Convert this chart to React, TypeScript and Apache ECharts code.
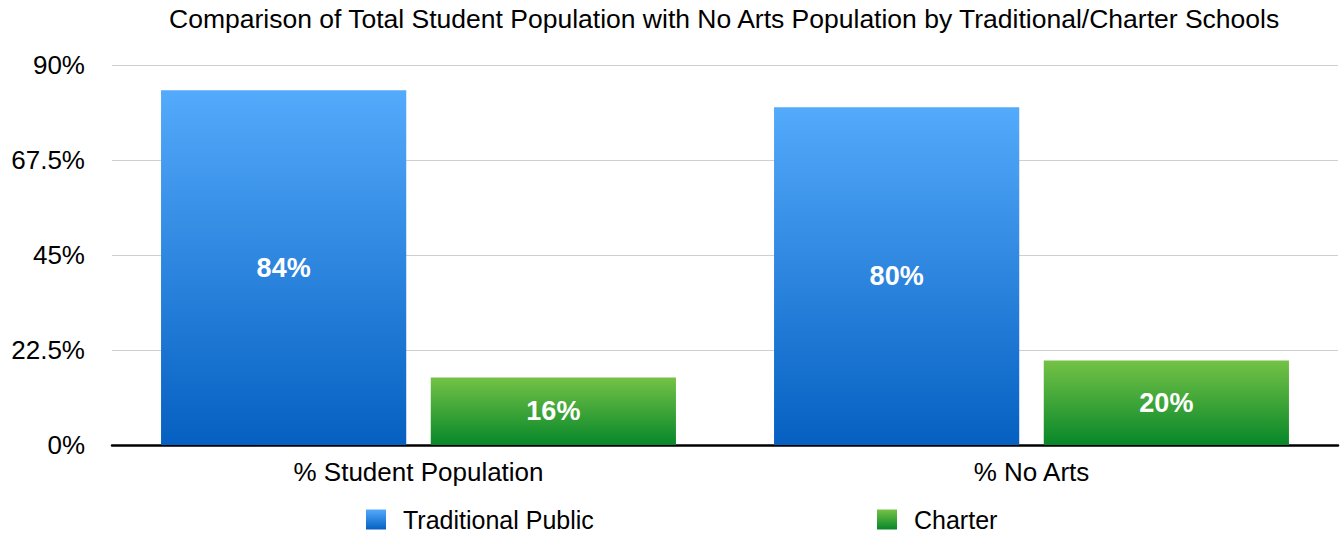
import React, { useEffect, useRef } from "react";
import * as echarts from "echarts";

const categories = ["% Student Population", "% No Arts"];
const traditionalPublic = [84, 80];
const charter = [16, 20];
const yTicks = { min: 0, max: 90, interval: 22.5 };
const titleText =
  "Comparison of Total Student Population with No Arts Population by Traditional/Charter Schools";

const FONT = "Helvetica, 'Liberation Sans', Arial, sans-serif";
const BOLD = "'Liberation Sans', Arial, sans-serif";

const blueGrad = () =>
  new echarts.graphic.LinearGradient(0, 0, 0, 1, [
    { offset: 0, color: "#54AAFB" },
    { offset: 1, color: "#0560C1" },
  ]);
const greenGrad = () =>
  new echarts.graphic.LinearGradient(0, 0, 0, 1, [
    { offset: 0, color: "#74C246" },
    { offset: 1, color: "#07872A" },
  ]);

export default function App() {
  const ref = useRef<HTMLDivElement>(null);
  useEffect(() => {
    if (!ref.current) return;
    const chart = echarts.init(ref.current, undefined, { renderer: "svg" });
    const labelCfg = {
      show: true,
      position: "inside",
      color: "#fff",
      fontFamily: BOLD,
      fontWeight: "bold",
      fontSize: 27,
      formatter: (p: any) => p.value + "%",
    };
    const legendText = {
      fontFamily: FONT,
      fontSize: 25,
      color: "#000",
      padding: [0, 0, 0, 12],
    };
    chart.setOption({
      animation: false,
      backgroundColor: "#fff",
      title: {
        text: titleText,
        left: 169,
        top: 5,
        padding: 0,
        textStyle: { fontFamily: FONT, fontSize: 26.5, fontWeight: "normal", color: "#000" },
      },
      legend: [
        {
          data: ["Traditional Public"],
          left: 366,
          top: 507,
          padding: 0,
          itemWidth: 20,
          itemHeight: 20,
          icon: "rect",
          textStyle: legendText,
        },
        {
          data: ["Charter"],
          left: 877,
          top: 507,
          padding: 0,
          itemWidth: 20,
          itemHeight: 20,
          icon: "rect",
          textStyle: legendText,
        },
      ],
      grid: { left: 112, right: 3, top: 65, bottom: 90, containLabel: false },
      xAxis: {
        type: "category",
        data: categories,
        axisTick: { show: false },
        axisLine: { lineStyle: { color: "#000", width: 2.5 } },
        axisLabel: { fontFamily: FONT, fontSize: 26, color: "#000", margin: 14 },
      },
      yAxis: {
        type: "value",
        min: yTicks.min,
        max: yTicks.max,
        interval: yTicks.interval,
        axisLine: { show: false },
        axisTick: { show: false },
        splitLine: { lineStyle: { color: "#cfcfcf", width: 1 } },
        axisLabel: {
          fontFamily: FONT,
          fontSize: 26,
          color: "#000",
          margin: 27,
          formatter: (v: number) => v + "%",
        },
      },
      series: [
        {
          name: "Traditional Public",
          type: "bar",
          data: traditionalPublic,
          barWidth: "40%",
          barGap: "10%",
          itemStyle: { color: blueGrad() },
          label: labelCfg,
        },
        {
          name: "Charter",
          type: "bar",
          data: charter,
          barWidth: "40%",
          barGap: "10%",
          itemStyle: { color: greenGrad() },
          label: labelCfg,
        },
      ],
    });
    return () => chart.dispose();
  }, []);
  return (
    <div
      ref={ref}
      style={{ position: "absolute", left: 0, top: 0, width: 1341, height: 535 }}
    />
  );
}
